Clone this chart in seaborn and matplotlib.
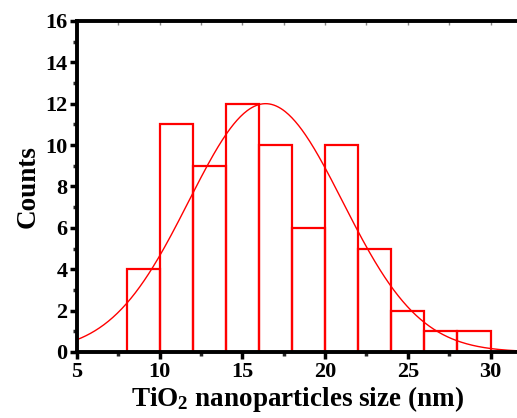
import numpy as np
import pandas as pd
import matplotlib
matplotlib.use("Agg")
import matplotlib.pyplot as plt
import seaborn as sns
from matplotlib.ticker import MultipleLocator, NullFormatter

# Particle size histogram: bin edges (nm) and counts per bin
bin_edges = [8, 10, 12, 14, 16, 18, 20, 22, 24, 26, 28, 30]
counts = [4, 11, 9, 12, 10, 6, 10, 5, 2, 1, 1]

# Gaussian fit parameters
fit_center = 16.4
fit_sigma = 4.65
fit_amplitude = 12.0

sns.set_theme(style="ticks")
plt.rcParams["font.family"] = ["Liberation Serif", "DejaVu Serif"]
plt.rcParams["font.weight"] = "bold"
plt.rcParams["text.color"] = "black"
plt.rcParams["axes.labelcolor"] = "black"
plt.rcParams["mathtext.fontset"] = "custom"
plt.rcParams["mathtext.rm"] = "Liberation Serif:bold"
plt.rcParams["mathtext.bf"] = "Liberation Serif:bold"
plt.rcParams["mathtext.it"] = "Liberation Serif:bold"

centers = [(a + b) / 2 for a, b in zip(bin_edges[:-1], bin_edges[1:])]
df = pd.DataFrame({"size": centers, "count": counts})

fig = plt.figure(figsize=(5.17, 4.18), dpi=100)
ax = fig.add_axes([0.149, 0.158, 0.851, 0.792])

sns.histplot(data=df, x="size", weights="count", bins=bin_edges,
             fill=False, color="red", element="bars", linewidth=1.6, ax=ax)

xs = np.linspace(5, 32, 400)
fit = pd.DataFrame({"x": xs,
                    "y": fit_amplitude * np.exp(-(xs - fit_center) ** 2 / (2 * fit_sigma ** 2))})
sns.lineplot(data=fit, x="x", y="y", color="red", linewidth=1.0, ax=ax)

ax.set_xlim(5, 31.6)
ax.set_ylim(0, 16)
ax.xaxis.set_major_locator(MultipleLocator(5))
ax.xaxis.set_minor_locator(MultipleLocator(2.5))
ax.yaxis.set_major_locator(MultipleLocator(2))
ax.yaxis.set_minor_locator(MultipleLocator(1))

for side in ["left", "bottom", "top"]:
    ax.spines[side].set_linewidth(2.8)
    ax.spines[side].set_color("black")
ax.spines["right"].set_visible(False)

ax.tick_params(axis="both", which="major", direction="out", length=5, width=2.5,
               labelsize=16, pad=2, colors="black", labelcolor="black")
ax.tick_params(axis="both", which="minor", direction="out", length=3, width=2.5)
for lbl in ax.get_xticklabels() + ax.get_yticklabels():
    lbl.set_fontweight("bold")

# faint inward ticks along the top frame
top = ax.secondary_xaxis("top")
top.xaxis.set_major_locator(MultipleLocator(2.5))
top.xaxis.set_major_formatter(NullFormatter())
top.tick_params(direction="in", length=3, width=1, colors="#888888")
top.spines["top"].set_visible(False)

ax.set_xlabel("TiO$_2$ nanoparticles size (nm)", fontsize=19.5, fontweight="bold",
              labelpad=2, color="black")
ax.set_ylabel("Counts", fontsize=19.5, fontweight="bold", labelpad=3, color="black")

fig.savefig("out.png", dpi=100)
